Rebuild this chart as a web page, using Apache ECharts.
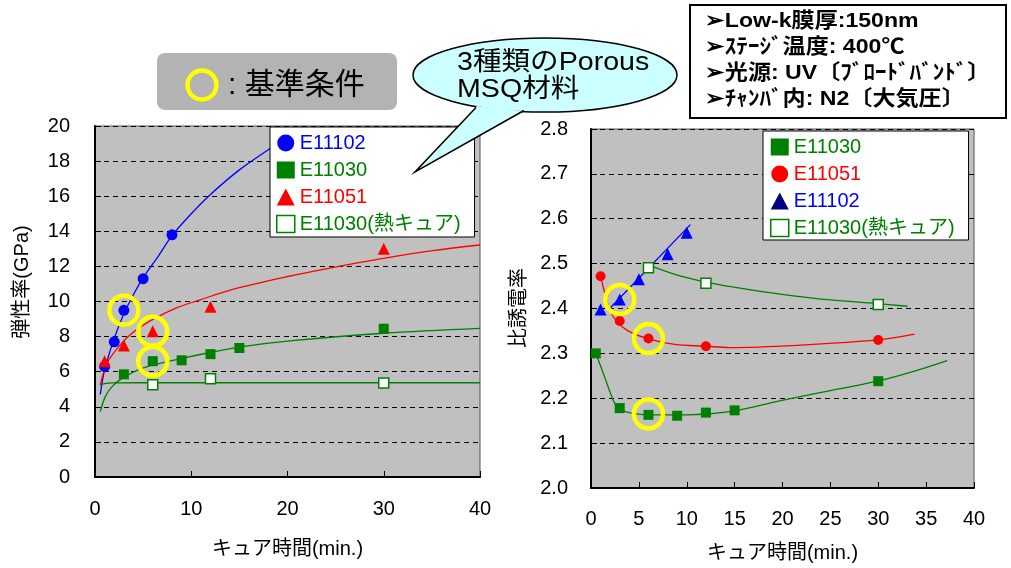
<!DOCTYPE html>
<html><head><meta charset="utf-8">
<script src="https://cdn.jsdelivr.net/npm/echarts@6/dist/echarts.min.js"></script>
<style>html,body{margin:0;padding:0;background:#fff}#c{width:1011px;height:568px}</style>
</head><body><div id="c"></div>
<script>
// ---------- data ----------
// Left chart: 弾性率 (GPa) vs キュア時間 (min.)
const L_E11102_x = [1, 2, 3, 5, 8];
const L_E11102_y = [6.3, 7.7, 9.5, 11.3, 13.8];
const L_E11030_x = [3, 6, 9, 12, 15, 30];
const L_E11030_y = [5.85, 6.6, 6.65, 7.0, 7.35, 8.45];
const L_E11051_x = [1, 3, 6, 12, 30];
const L_E11051_y = [6.6, 7.5, 8.3, 9.7, 13.0];
const L_E11030H_x = [6, 12, 30];
const L_E11030H_y = [5.25, 5.6, 5.35];
// trend curves
const L_fit102_x = [0.55, 1, 2, 3, 4, 5, 6.6, 8, 10, 12, 15, 18, 21.6];
const L_fit102_y = [4.7, 6.1, 7.9, 9.3, 10.4, 11.35, 12.6, 13.75, 15.0, 16.1, 17.5, 18.65, 20.0];
const L_fit051_x = [0.55, 1.25, 2.46, 3.84, 5.92, 8.35, 10.9, 14.4, 19.9, 24.8, 29.95, 35.1, 40];
const L_fit051_y = [5.24, 6.48, 7.43, 8.19, 8.95, 9.61, 10.09, 10.7, 11.41, 11.95, 12.46, 12.9, 13.22];
const L_fit030_x = [0.55, 1.07, 1.77, 2.81, 4.88, 8.35, 11.8, 15.3, 20.5, 29.95, 40];
const L_fit030_y = [3.72, 4.58, 5.15, 5.62, 6.19, 6.67, 7.08, 7.43, 7.77, 8.19, 8.47];
const L_fit030H_x = [0.55, 1.0, 1.77, 5, 40];
const L_fit030H_y = [5.24, 5.32, 5.36, 5.37, 5.37];
const L_ref_x = [3, 6, 6];
const L_ref_y = [9.5, 8.3, 6.6];

// Right chart: 比誘電率 vs キュア時間 (min.)
const R_E11030_x = [0.5, 3, 6, 9, 12, 15, 30];
const R_E11030_y = [2.30, 2.178, 2.163, 2.161, 2.168, 2.173, 2.238];
const R_E11051_x = [1, 3, 6, 12, 30];
const R_E11051_y = [2.472, 2.372, 2.333, 2.316, 2.33];
const R_E11102_x = [1, 3, 5, 8, 10];
const R_E11102_y = [2.398, 2.42, 2.465, 2.521, 2.569];
const R_E11030H_x = [6, 12, 30];
const R_E11030H_y = [2.491, 2.456, 2.409];
const R_fit030_x = [0.5, 1.0, 1.5, 2.0, 2.5, 3.0, 4.0, 6, 10, 14.5, 19.7, 25, 29.9, 33.7, 37.2];
const R_fit030_y = [2.30, 2.272, 2.243, 2.213, 2.188, 2.176, 2.168, 2.163, 2.163, 2.170, 2.194, 2.217, 2.238, 2.26, 2.284];
const R_fit051_x = [1, 1.43, 1.95, 2.65, 3.87, 5.9, 8.75, 11.95, 14.5, 21.5, 29.9, 33.8];
const R_fit051_y = [2.472, 2.435, 2.398, 2.372, 2.35, 2.333, 2.32, 2.316, 2.313, 2.318, 2.33, 2.343];
const R_fit102_x = [1.95, 10.38];
const R_fit102_y = [2.40, 2.587];
const R_fit030H_x = [6, 8.75, 11.95, 15.4, 19.75, 25, 29.9, 33.05];
const R_fit030H_y = [2.497, 2.476, 2.459, 2.446, 2.432, 2.419, 2.411, 2.405];
const R_ref_x = [3, 6, 6];
const R_ref_y = [2.42, 2.333, 2.165];

// tick labels / axis titles
const xName = 'キュア時間(min.)';
const yNameLeft = '弾性率(GPa)';
const yNameRight = '比誘電率';
const legendLeft = ['E11102', 'E11030', 'E11051', 'E11030(熱キュア)'];
const legendRight = ['E11030', 'E11051', 'E11102', 'E11030(熱キュア)'];

// ---------- helpers ----------
const zip = (xs, ys) => xs.map((x, i) => [x, ys[i]]);
const FONT = "'Liberation Sans', Arial, 'Noto Sans CJK JP', sans-serif";
const BLUE = '#0000ff', GREEN = '#008000', RED = '#ff0000', NAVY = '#000080', YEL = '#ffff00';

function fit(name, gi, xs, ys, color) {
  return { name: name, type: 'line', xAxisIndex: gi, yAxisIndex: gi, data: zip(xs, ys),
    showSymbol: false, symbol: 'none', smooth: 0.35, silent: true,
    lineStyle: { color: color, width: 1.3 }, itemStyle: { color: color }, z: 2 };
}
function pts(name, gi, xs, ys, symbol, size, style) {
  return { name: name, type: 'scatter', xAxisIndex: gi, yAxisIndex: gi, data: zip(xs, ys),
    symbol: symbol, symbolSize: size, itemStyle: Object.assign({ opacity: 1 }, style), z: 3, silent: true };
}
function refs(gi, xs, ys) {
  return { name: 'ref' + gi, type: 'scatter', xAxisIndex: gi, yAxisIndex: gi, data: zip(xs, ys),
    symbol: 'circle', symbolSize: 29, silent: true, z: 4,
    itemStyle: { opacity: 1, color: 'rgba(0,0,0,0)', borderColor: YEL, borderWidth: 4.5 } };
}
const hollow = { color: '#ffffff', borderColor: GREEN, borderWidth: 1.5 };

function xAxis(gi, interval, margin, nameGap) {
  return { gridIndex: gi, type: 'value', min: 0, max: 40, interval: interval,
    axisLine: { show: true, onZero: false, lineStyle: { color: '#000', width: 2 } },
    axisTick: { show: true, inside: true, length: 6, lineStyle: { color: '#000', width: 1 } },
    axisLabel: { fontSize: 20, color: '#000', fontFamily: FONT, margin: margin },
    splitLine: { show: false },
    name: xName, nameLocation: 'middle', nameGap: nameGap,
    nameTextStyle: { fontSize: 20, color: '#000', fontFamily: FONT } };
}
function yAxis(gi, min, max, interval, margin, fmt) {
  return { gridIndex: gi, type: 'value', min: min, max: max, interval: interval,
    axisLine: { show: true, onZero: false, lineStyle: { color: '#000', width: 2 } },
    axisTick: { show: true, inside: true, length: 6, lineStyle: { color: '#000', width: 1 } },
    axisLabel: { fontSize: 20, color: '#000', fontFamily: FONT, margin: margin, formatter: fmt },
    splitLine: { show: true, lineStyle: { color: '#000', width: 1, type: [5, 4] } } };
}
function legendItems(names, icons, colors, styles) {
  return names.map((n, i) => ({ name: n, icon: icons[i], itemStyle: styles[i],
    textStyle: { color: colors[i], fontSize: 20, fontFamily: FONT } }));
}

const option = {
  animation: false,
  backgroundColor: '#ffffff',
  grid: [
    { left: 95, top: 126, width: 385, height: 351, show: true, backgroundColor: '#c0c0c0',
      borderColor: '#555', borderWidth: 1, outerBoundsMode: 'none', containLabel: false },
    { left: 591, top: 129, width: 383, height: 359, show: true, backgroundColor: '#c0c0c0',
      borderColor: '#555', borderWidth: 1, outerBoundsMode: 'none', containLabel: false }
  ],
  xAxis: [xAxis(0, 10, 22, 62), xAxis(1, 5, 21, 55)],
  yAxis: [
    yAxis(0, 0, 20, 2, 25, v => String(v)),
    yAxis(1, 2.0, 2.8, 0.1, 23, v => v.toFixed(1))
  ],
  legend: [
    { orient: 'vertical', left: 270, top: 127, padding: [6, 14, 3, 6], itemGap: 7,
      itemWidth: 18, itemHeight: 17, backgroundColor: '#fff', borderColor: '#000', borderWidth: 1,
      selectedMode: false, textStyle: { fontSize: 20, fontFamily: FONT },
      data: legendItems(legendLeft, ['circle', 'rect', 'triangle', 'rect'],
        [BLUE, GREEN, RED, GREEN],
        [{ color: BLUE }, { color: GREEN }, { color: RED }, hollow]) },
    { orient: 'vertical', left: 763, top: 131, padding: [6, 14, 2, 7], itemGap: 7,
      itemWidth: 18, itemHeight: 17, backgroundColor: '#fff', borderColor: '#000', borderWidth: 1,
      selectedMode: false, textStyle: { fontSize: 20, fontFamily: FONT },
      formatter: n => n.replace(/^R /, ''),
      data: legendItems(legendRight.map(n => 'R ' + n), ['rect', 'circle', 'triangle', 'rect'],
        [GREEN, RED, BLUE, GREEN],
        [{ color: GREEN }, { color: RED }, { color: NAVY }, hollow]) }
  ],
  series: [
    fit('fitL102', 0, L_fit102_x, L_fit102_y, BLUE),
    fit('fitL051', 0, L_fit051_x, L_fit051_y, RED),
    fit('fitL030', 0, L_fit030_x, L_fit030_y, GREEN),
    fit('fitL030H', 0, L_fit030H_x, L_fit030H_y, GREEN),
    pts('E11102', 0, L_E11102_x, L_E11102_y, 'circle', 11, { color: BLUE }),
    pts('E11030', 0, L_E11030_x, L_E11030_y, 'rect', 10, { color: GREEN }),
    pts('E11051', 0, L_E11051_x, L_E11051_y, 'triangle', 12, { color: RED }),
    pts('E11030(熱キュア)', 0, L_E11030H_x, L_E11030H_y, 'rect', 10, hollow),
    refs(0, L_ref_x, L_ref_y),

    fit('fitR030', 1, R_fit030_x, R_fit030_y, GREEN),
    fit('fitR051', 1, R_fit051_x, R_fit051_y, RED),
    fit('fitR102', 1, R_fit102_x, R_fit102_y, BLUE),
    fit('fitR030H', 1, R_fit030H_x, R_fit030H_y, GREEN),
    pts('R E11030', 1, R_E11030_x, R_E11030_y, 'rect', 10, { color: GREEN }),
    pts('R E11051', 1, R_E11051_x, R_E11051_y, 'circle', 10, { color: RED }),
    pts('R E11102', 1, R_E11102_x, R_E11102_y, 'triangle', 12, { color: BLUE }),
    pts('R E11030(熱キュア)', 1, R_E11030H_x, R_E11030H_y, 'rect', 10, hollow),
    refs(1, R_ref_x, R_ref_y)
  ],
  graphic: [
    // axis titles (vertical)
    { type: 'text', x: 22, y: 282, rotation: Math.PI / 2, z: 10,
      style: { text: yNameLeft, font: '20px ' + FONT, fill: '#000', align: 'center', verticalAlign: 'middle' } },
    { type: 'text', x: 519, y: 308, rotation: Math.PI / 2, z: 10,
      style: { text: yNameRight, font: '20px ' + FONT, fill: '#000', align: 'center', verticalAlign: 'middle' } },
    // 基準条件 box
    { type: 'rect', shape: { x: 157, y: 53, width: 240, height: 57, r: 8 }, z: 10,
      style: { fill: '#b3b3b3', stroke: null } },
    { type: 'circle', shape: { cx: 202, cy: 85, r: 14.5 }, z: 11,
      style: { fill: 'none', stroke: YEL, lineWidth: 4.5 } },
    { type: 'text', x: 228, y: 86, z: 11,
      style: { text: ': 基準条件', font: '30px ' + FONT, fill: '#000', align: 'left', verticalAlign: 'middle' } },
    // speech bubble
    { type: 'ellipse', shape: { cx: 545, cy: 75, rx: 132, ry: 37 }, z: 20,
      style: { fill: '#ccffff', stroke: '#000', lineWidth: 1.5 } },
    { type: 'polygon', shape: { points: [[477, 106], [415, 172], [523, 111]] }, z: 21,
      style: { fill: '#ccffff', stroke: null } },
    { type: 'polyline', shape: { points: [[476, 107.5], [415, 172], [524, 110.5]] }, z: 22,
      style: { fill: null, stroke: '#000', lineWidth: 1.5 } },
    { type: 'text', x: 457, y: 63, z: 23, scaleX: 1.1,
      style: { text: '3種類のPorous', font: '26px ' + FONT, fill: '#000', align: 'left', verticalAlign: 'middle' } },
    { type: 'text', x: 457, y: 90, z: 23, scaleX: 1.1,
      style: { text: 'MSQ材料', font: '26px ' + FONT, fill: '#000', align: 'left', verticalAlign: 'middle' } },
    // conditions box
    { type: 'rect', shape: { x: 690, y: 5, width: 316, height: 113 }, z: 20,
      style: { fill: '#fff', stroke: '#000', lineWidth: 2 } },
    { type: 'text', x: 705, y: 21, z: 21, scaleX: 1.1,
      style: { text: '➢Low-k膜厚:150nm', font: 'bold 21px ' + FONT, fill: '#000', verticalAlign: 'middle' } },
    { type: 'text', x: 705, y: 47, z: 21, scaleX: 1.1,
      style: { text: '➢ｽﾃｰｼﾞ温度: 400℃', font: 'bold 21px ' + FONT, fill: '#000', verticalAlign: 'middle' } },
    { type: 'text', x: 705, y: 73, z: 21, scaleX: 1.1,
      style: { text: '➢光源: UV〔ﾌﾞﾛｰﾄﾞﾊﾞﾝﾄﾞ〕', font: 'bold 21px ' + FONT, fill: '#000', verticalAlign: 'middle' } },
    { type: 'text', x: 705, y: 99, z: 21, scaleX: 1.1,
      style: { text: '➢ﾁｬﾝﾊﾞ内: N2〔大気圧〕', font: 'bold 21px ' + FONT, fill: '#000', verticalAlign: 'middle' } }
  ]
};

const chart = echarts.init(document.getElementById('c'), null, { renderer: 'canvas', width: 1011, height: 568 });
chart.setOption(option);
</script>
</body></html>
